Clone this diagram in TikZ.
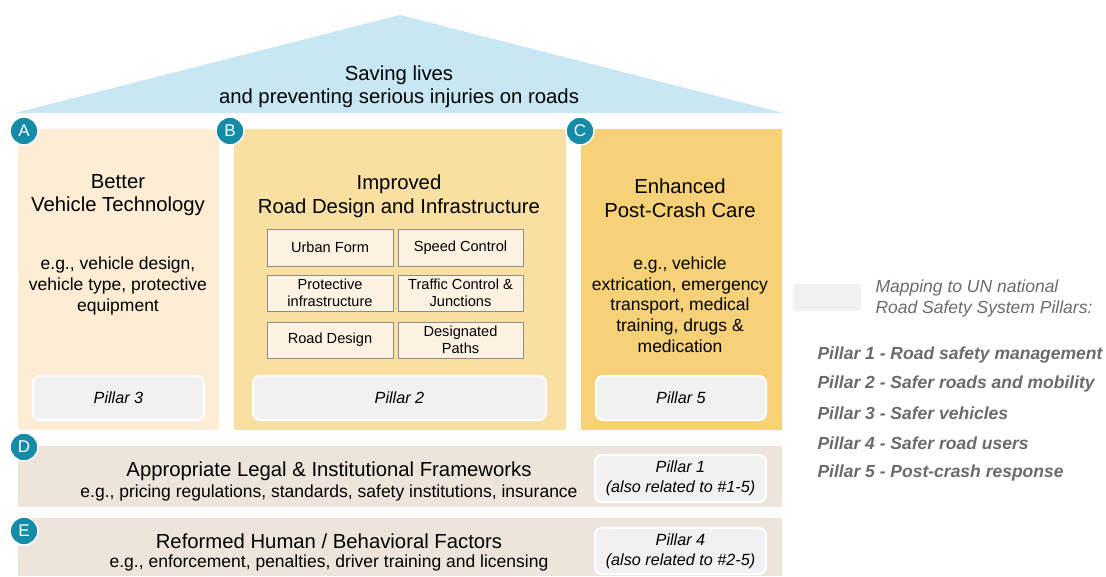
\documentclass[tikz,border=0pt]{standalone}
\usepackage{fontspec}
\setmainfont{Liberation Sans}
\definecolor{roof}{HTML}{C7E7F4}
\definecolor{colA}{HTML}{FCEDD4}
\definecolor{colB}{HTML}{F9DFA2}
\definecolor{colC}{HTML}{F7D178}
\definecolor{band}{HTML}{EDE5DC}
\definecolor{pil}{HTML}{F1F1F1}
\definecolor{teal}{HTML}{168BA8}
\definecolor{subf}{HTML}{FEF3E2}
\definecolor{subd}{HTML}{8C8C8C}
\definecolor{legtxt}{HTML}{6A6A6A}
\tikzset{
  badge/.style={circle, fill=teal, draw=white, line width=1.5pt, minimum size=28pt, inner sep=0pt, text=white, font=\fontsize{17}{17}\selectfont},
  pillarbox/.style={fill=pil, draw=white, line width=2pt, rounded corners=7pt},
  pilltxt/.style={font=\fontsize{16.2}{20}\selectfont\itshape, align=center},
  subbox/.style={fill=subf, draw=subd, line width=0.8pt},
  subtxt/.style={font=\fontsize{14.6}{17}\selectfont, align=center},
  title/.style={font=\fontsize{20.3}{23.5}\selectfont, align=center},
  body/.style={font=\fontsize{17.5}{20.7}\selectfont, align=center},
  legend/.style={font=\fontsize{17.5}{20}\selectfont\bfseries\itshape, text=legtxt, anchor=west},
}
\begin{document}
\begin{tikzpicture}[x=1pt,y=-1pt]
\useasboundingbox (0,0) rectangle (1106,576);
% roof
\fill[roof] (15,113) -- (400,15) -- (783,113) -- cycle;
\node[title] (roofT) at (399,86.5) {Saving lives\\and preventing serious injuries on roads};
% pillars
\fill[colA] (18,129) rectangle (219,430);
\fill[colB] (234,129) rectangle (566,430);
\fill[colC] (581,129) rectangle (782,430);
% bands
\fill[band] (18,446) rectangle (782,507);
\fill[band] (18,518) rectangle (782,576);
% Pillar A text
\node[title] (tA) at (118,195) {Better\\Vehicle Technology};
\node[body] (bA) at (118,286) {e.g., vehicle design,\\vehicle type, protective\\equipment};
% Pillar B text
\node[title] (tB) at (399,196) {Improved\\Road Design and Infrastructure};
\node[subbox, minimum width=126pt, minimum height=37pt] (s1) at (330,247.5) {};
\node[subtxt] at (s1) {Urban Form};
\node[subbox, minimum width=125pt, minimum height=37pt] (s2) at (460.5,247.5) {};
\node[subtxt] at (s2) {Speed Control};
\node[subbox, minimum width=126pt, minimum height=36pt] (s3) at (330,293) {};
\node[subtxt] at (s3) {Protective\\infrastructure};
\node[subbox, minimum width=125pt, minimum height=36pt] (s4) at (460.5,293) {};
\node[subtxt] at (s4) {Traffic Control \&\\Junctions};
\node[subbox, minimum width=126pt, minimum height=36pt] (s5) at (330,340) {};
\node[subtxt] at (s5) {Road Design};
\node[subbox, minimum width=125pt, minimum height=36pt] (s6) at (460.5,340) {};
\node[subtxt] at (s6) {Designated\\Paths};
% Pillar C text
\node[title] (tC) at (680,198) {Enhanced\\Post-Crash Care};
\node[body] (bC) at (680,304.5) {e.g., vehicle\\extrication, emergency\\transport, medical\\training, drugs \&\\medication};
% pillar label boxes
\draw[pillarbox] (33,376) rectangle (204,420);
\node[pilltxt] (p3) at (118.5,398) {Pillar 3};
\draw[pillarbox] (253,376) rectangle (546,420);
\node[pilltxt] (p2) at (399.5,398) {Pillar 2};
\draw[pillarbox] (596,376) rectangle (766,420);
\node[pilltxt] (p5) at (681,398) {Pillar 5};
\draw[pillarbox] (595,455) rectangle (766,502);
\node[pilltxt] (p1) at (680.5,478) {Pillar 1\\(also related to \#1-5)};
\draw[pillarbox] (595,528) rectangle (766,574);
\node[pilltxt] (p4) at (680.5,551) {Pillar 4\\(also related to \#2-5)};
% D and E text
\node[title] (tD) at (329,471) {Appropriate Legal \& Institutional Frameworks};
\node[body] (bD) at (329,492.5) {e.g., pricing regulations, standards, safety institutions, insurance};
\node[title] (tE) at (329,541) {Reformed Human / Behavioral Factors};
\node[body] (bE) at (329,562.5) {e.g., enforcement, penalties, driver training and licensing};
% badges
\node[badge] (A) at (24,131) {A};
\node[badge] (B) at (230,131) {B};
\node[badge] (C) at (580,131) {C};
\node[badge] (D) at (24,447) {D};
\node[badge] (E) at (24,531) {E};
% legend
\fill[pil, rounded corners=3pt] (793,284) rectangle (861,311);
\node[font=\fontsize{17.5}{21}\selectfont\itshape, text=legtxt, align=left, anchor=west] (lg) at (872,298.5) {Mapping to UN national\\Road Safety System Pillars:};
\node[legend] (l1) at (814,355) {Pillar 1 - Road safety management};
\node[legend] (l2) at (814,384) {Pillar 2 - Safer roads and mobility};
\node[legend] (l3) at (814,413) {Pillar 3 - Safer vehicles};
\node[legend] (l4) at (814,443) {Pillar 4 - Safer road users};
\node[legend] (l5) at (814,473) {Pillar 5 - Post-crash response};
\end{tikzpicture}
\end{document}
